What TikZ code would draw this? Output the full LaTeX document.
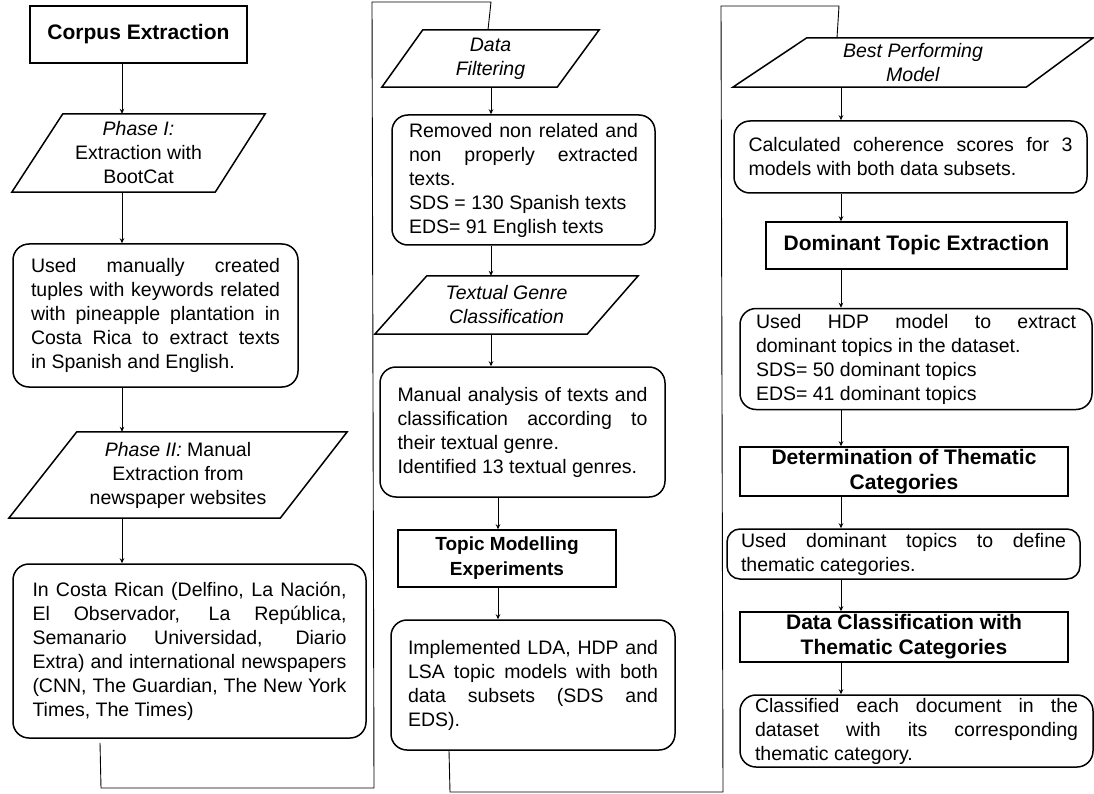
\documentclass[tikz,border=0pt]{standalone}
\usepackage{fontspec}
\setmainfont{Liberation Sans}
\usetikzlibrary{arrows.meta}
\newcommand{\jl}[1]{\leavevmode\hbox to\hsize{\spaceskip=0pt\xspaceskip=0pt #1}}
\hbadness=10000
\begin{document}
\begin{tikzpicture}[x=1pt,y=-1pt,
  rbox/.style={draw, line width=1.5pt, rounded corners=16pt, inner sep=0pt, align=flush left, font=\fontsize{19.5}{24}\selectfont},
  tbox/.style={draw, line width=1.5pt, inner sep=0pt, align=center, font=\fontsize{21}{25}\selectfont\bfseries},
  pnode/.style={inner sep=0pt, align=center, font=\fontsize{19.5}{24}\selectfont},
  pline/.style={line width=1.5pt, line join=miter},
  arr/.style={-{Stealth[length=5pt,width=4.5pt]}, line width=0.8pt},
  wrap/.style={line width=0.9pt, line join=miter}]
\useasboundingbox (0,0) rectangle (1094,794);

% arrow columns
\coordinate (X1) at (122,0);
\coordinate (X2a) at (491,0);
\coordinate (X2b) at (498,0);
\coordinate (X3) at (841,0);

% ---------- column 1 ----------
\node[tbox, minimum width=217pt, minimum height=57pt] (a0) at (138.5,34.5) {Corpus Extraction};

\node[pnode, minimum width=253pt, minimum height=78pt] (p1) at (138.5,153) {\textit{Phase I:}\\Extraction with\\BootCat};
\draw[pline] ([xshift=51pt]p1.north west) -- (p1.north east) -- ([xshift=-50pt]p1.south east) -- (p1.south west) -- cycle;

\node[rbox, minimum width=285pt, minimum height=143pt, text width=249pt] (b1) at (155.5,315.5)
 {\jl{Used manually created}\\\jl{tuples with keywords related}\\\jl{with pineapple plantation in}\\\jl{Costa Rica to extract texts}\\in Spanish and English.};

\node[pnode, minimum width=338pt, minimum height=86pt] (p2) at (178,475) {\textit{Phase II:} Manual\\Extraction from\\newspaper websites};
\draw[pline] ([xshift=68pt]p2.north west) -- (p2.north east) -- ([xshift=-67pt]p2.south east) -- (p2.south west) -- cycle;

\node[rbox, minimum width=353pt, minimum height=174pt, text width=314pt] (b2) at (189.5,651)
 {\jl{In Costa Rican (Delfino, La Nación,}\\\jl{El Observador, La República,}\\\jl{Semanario Universidad, Diario}\\\jl{Extra) and international newspapers}\\\jl{(CNN, The Guardian, The New York}\\Times, The Times)};

\draw[arr] (a0.south -| X1) -- (p1.north -| X1);
\draw[arr] (p1.south -| X1) -- (b1.north -| X1);
\draw[arr] (b1.south -| X1) -- (p2.north -| X1);
\draw[arr] (p2.south -| X1) -- (b2.north -| X1);

% ---------- column 2 ----------
\node[pnode, minimum width=217pt, minimum height=57pt] (q1) at (490.5,58.5) {\textit{Data}\\\textit{Filtering}};
\draw[pline] ([xshift=41pt]q1.north west) -- (q1.north east) -- ([xshift=-42pt]q1.south east) -- (q1.south west) -- cycle;

\node[rbox, minimum width=263pt, minimum height=130pt, text width=229pt] (c1) at (523.5,180)
 {\jl{Removed non related and}\\\jl{non properly extracted}\\texts.\\SDS = 130 Spanish texts\\EDS= 91 English texts};

\node[pnode, minimum width=263pt, minimum height=58pt] (q2) at (506.5,305) {\textit{Textual Genre}\\\textit{Classification}};
\draw[pline] ([xshift=52pt]q2.north west) -- (q2.north east) -- ([xshift=-51pt]q2.south east) -- (q2.south west) -- cycle;

\node[rbox, minimum width=285pt, minimum height=130pt, text width=250pt] (c2) at (522.5,432)
 {\jl{Manual analysis of texts and}\\\jl{classification according to}\\their textual genre.\\Identified 13 textual genres.};

\node[tbox, minimum width=218pt, minimum height=57pt, font=\fontsize{19}{25}\selectfont\bfseries] (tm) at (507,558.5) {Topic Modelling\\Experiments};

\node[rbox, minimum width=284pt, minimum height=130pt, text width=250pt] (c3) at (533,685)
 {\jl{Implemented LDA, HDP and}\\\jl{LSA topic models with both}\\\jl{data subsets (SDS and}\\EDS).};

\draw[arr] (q1.south -| X2a) -- (c1.north -| X2a);
\draw[arr] (c1.south -| X2a) -- (q2.north -| X2a);
\draw[arr] (q2.south -| X2a) -- (c2.north -| X2a);
\draw[arr] (c2.south -| X2b) -- (tm.north -| X2b);
\draw[arr] (tm.south -| X2b) -- (c3.north -| X2b);

% ---------- column 3 ----------
\node[pnode, minimum width=360pt, minimum height=49pt] (r1) at (913,62.5) {\textit{Best Performing}\\\textit{Model}};
\draw[pline] ([xshift=74pt]r1.north west) -- (r1.north east) -- ([xshift=-67pt]r1.south east) -- (r1.south west) -- cycle;

\node[rbox, minimum width=353pt, minimum height=72pt, text width=324pt] (d1) at (910.5,157)
 {\jl{Calculated coherence scores for 3}\\models with both data subsets.};

\node[tbox, minimum width=301pt, minimum height=47pt] (dt) at (916.5,245.5) {Dominant Topic Extraction};

\node[rbox, minimum width=352pt, minimum height=101pt, text width=320pt] (d2) at (916,359)
 {\jl{Used HDP model to extract}\\dominant topics in the dataset.\\SDS= 50 dominant topics\\EDS= 41 dominant topics};

\node[tbox, minimum width=328pt, minimum height=49pt] (det) at (904,471.5) {Determination of Thematic\\Categories};

\node[rbox, rounded corners=13pt, minimum width=353pt, minimum height=50pt, text width=325pt] (d3) at (903.5,554)
 {\jl{Used dominant topics to define}\\thematic categories.};

\node[tbox, minimum width=328pt, minimum height=50pt] (dc) at (904,637) {Data Classification with\\Thematic Categories};

\node[rbox, minimum width=353pt, minimum height=72pt, text width=323pt] (d4) at (916.5,731)
 {\jl{Classified each document in the}\\\jl{dataset with its corresponding}\\thematic category.};

\draw[arr] (r1.south -| X3) -- (d1.north -| X3);
\draw[arr] (d1.south -| X3) -- (dt.north -| X3);
\draw[arr] (dt.south -| X3) -- (d2.north -| X3);
\draw[arr] (d2.south -| X3) -- (det.north -| X3);
\draw[arr] (det.south -| X3) -- (d3.north -| X3);
\draw[arr] (d3.south -| X3) -- (dc.north -| X3);
\draw[arr] (dc.south -| X3) -- (d4.north -| X3);

% ---------- wrap-around connectors ----------
\coordinate (k1) at (100,0);
\coordinate (w1a) at (101,788);
\coordinate (w1b) at (374,788);
\coordinate (w1c) at (372,2);
\coordinate (w1d) at (491,2);
\coordinate (k2) at (488,0);
\draw[wrap] ([yshift=-4pt]b2.south -| k1) -- (w1a) -- (w1b) -- (w1c) -- (w1d) -- (q1.north -| k2);

\coordinate (k3) at (449,0);
\coordinate (w2a) at (450,792);
\coordinate (w2b) at (723,792);
\coordinate (w2c) at (721,6);
\coordinate (w2d) at (839,6);
\coordinate (k4) at (837,0);
\draw[wrap] (c3.south -| k3) -- (w2a) -- (w2b) -- (w2c) -- (w2d) -- (r1.north -| k4);
\end{tikzpicture}
\end{document}
